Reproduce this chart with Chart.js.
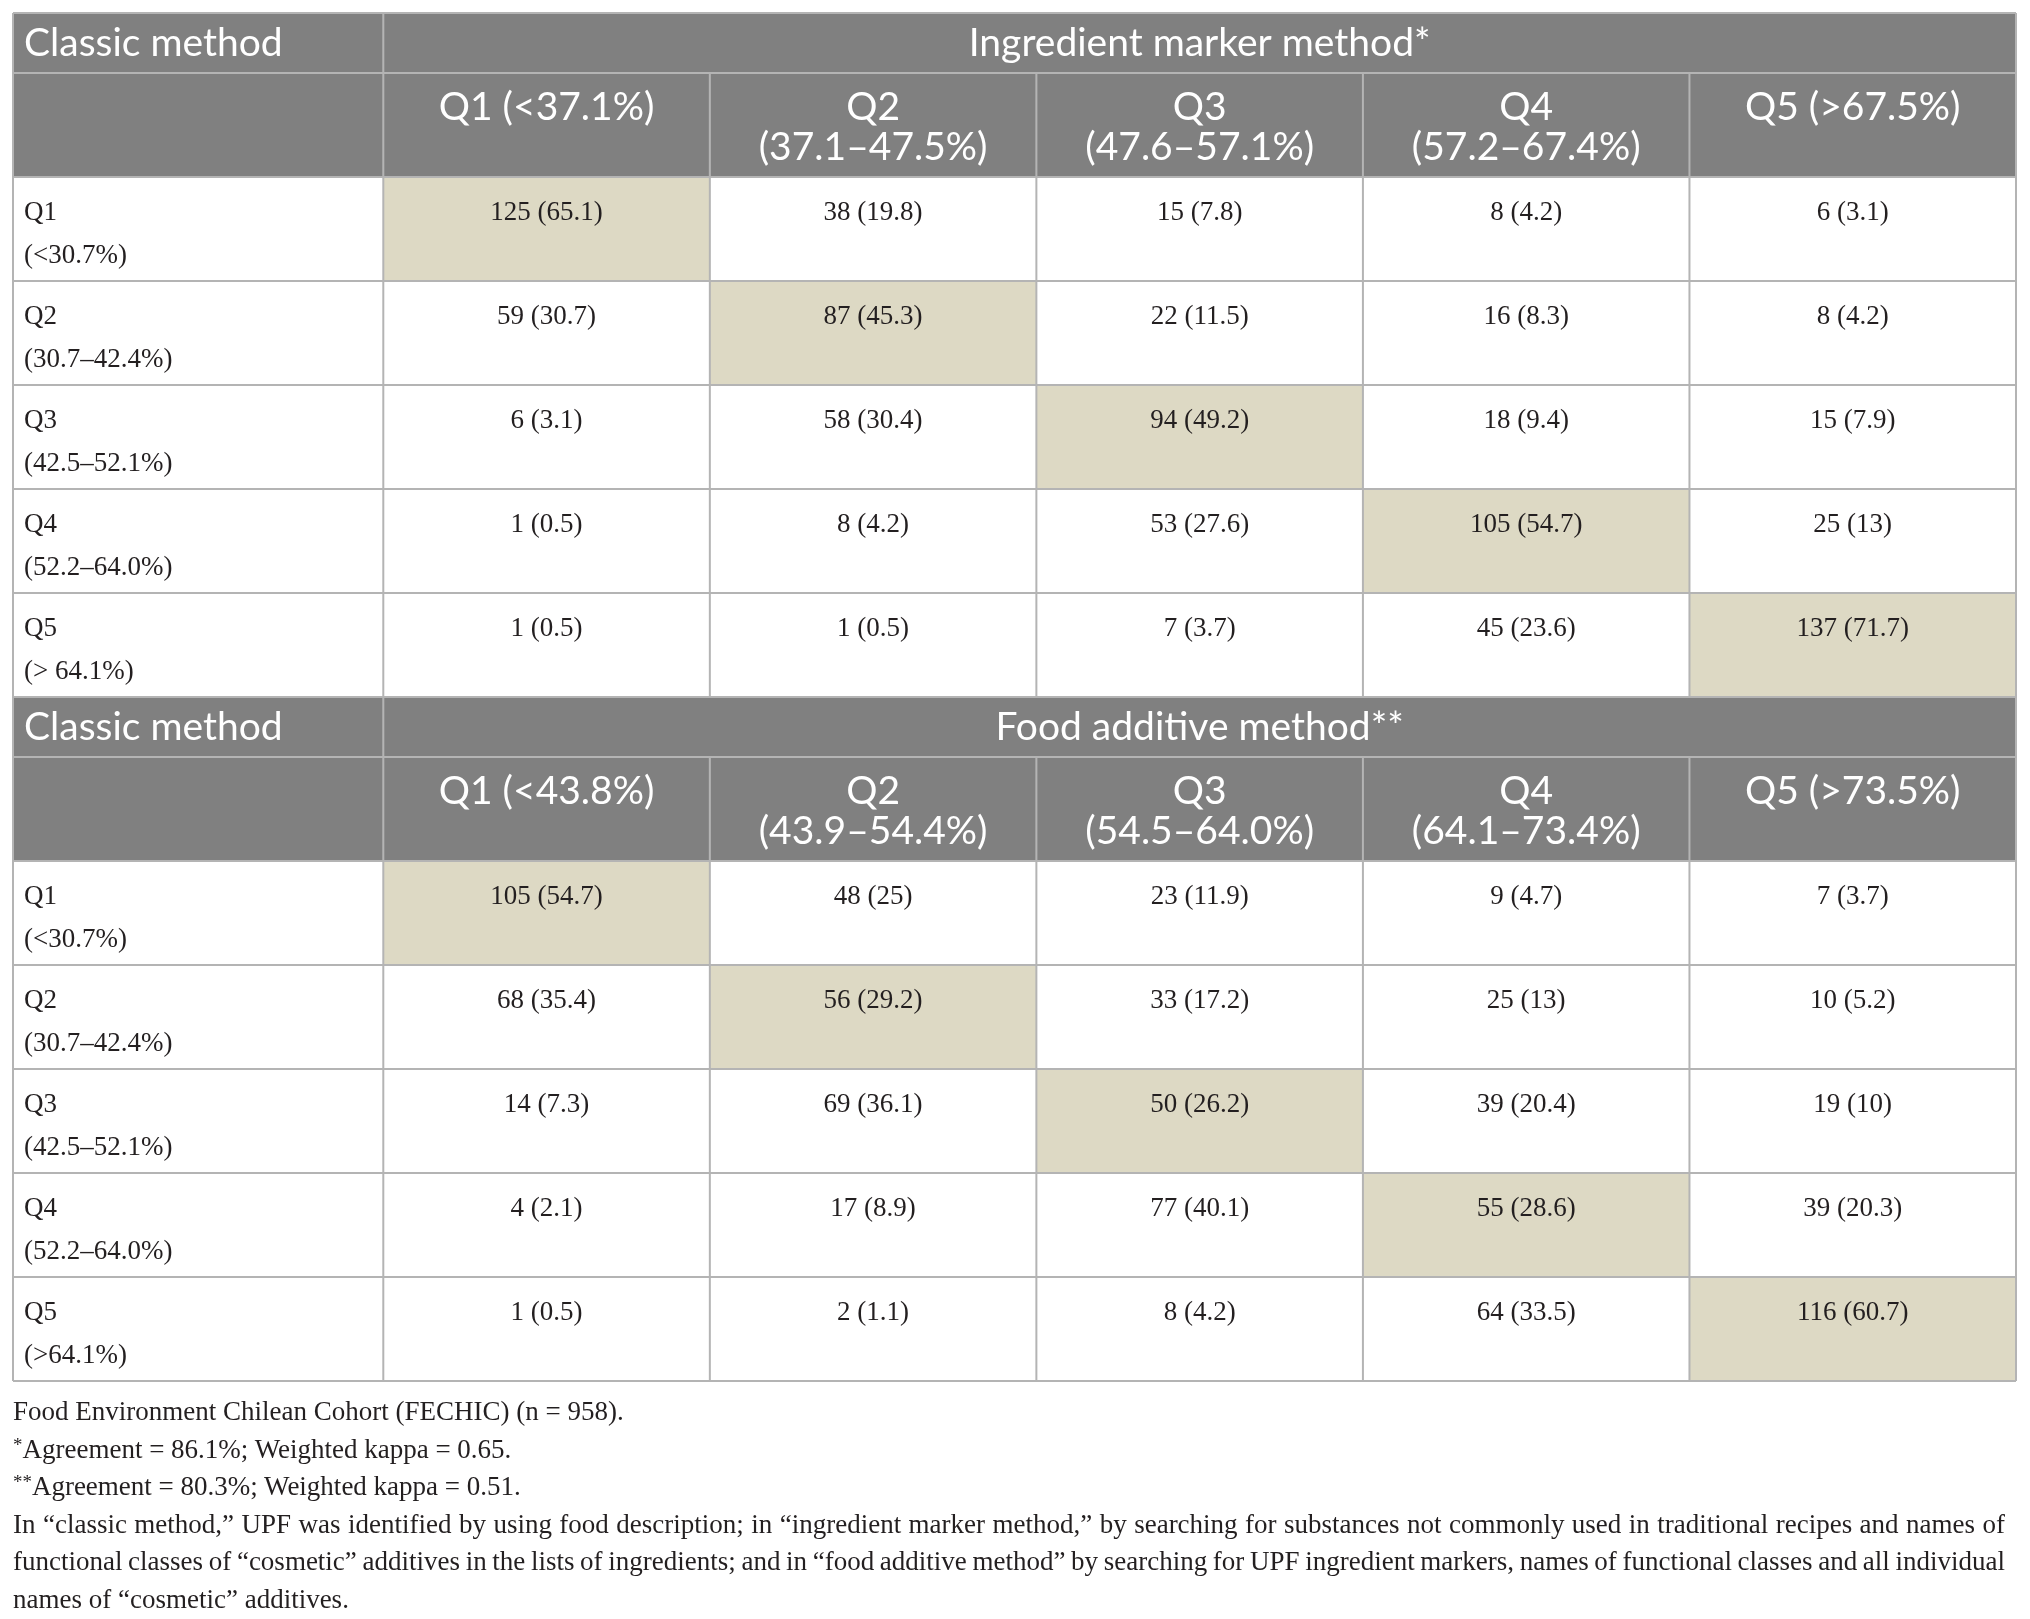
<!DOCTYPE html>
<html>
<head>
<meta charset="utf-8">
<script src="https://cdn.jsdelivr.net/npm/chart.js@4.4.1/dist/chart.umd.min.js"></script>
<style>
  body { margin: 0; background: #fff; width: 2030px; height: 1619px; overflow: hidden; }
  #table { position: absolute; left: 0; top: 0; }
  #notes { position: absolute; left: 13px; top: 1393px; width: 1992px;
           font-family: "Liberation Serif", serif; font-size: 27px; line-height: 37.5px; color: #231f20; }
  #notes div { white-space: nowrap; }
  #notes sup { font-size: 70%; vertical-align: 7px; line-height: 0; }
</style>
</head>
<body>
<canvas id="table" width="2030" height="1395"></canvas>
<div id="notes">
  <div>Food Environment Chilean Cohort (FECHIC) (n = 958).</div>
  <div><sup>*</sup>Agreement = 86.1%; Weighted kappa = 0.65.</div>
  <div><sup>**</sup>Agreement = 80.3%; Weighted kappa = 0.51.</div>
  <div class="just">In “classic method,” UPF was identified by using food description; in “ingredient marker method,” by searching for substances not commonly used in traditional recipes and names of</div>
  <div class="just">functional classes of “cosmetic” additives in the lists of ingredients; and in “food additive method” by searching for UPF ingredient markers, names of functional classes and all individual</div>
  <div>names of “cosmetic” additives.</div>
</div>
<script>
// Table data
const classicHeader = "Classic method";
const tableHeaders = ["Ingredient marker method*", "Food additive method**"];

const rowLabels = ["Q1", "Q2", "Q3", "Q4", "Q5"];
const classicRanges = [
  ["(<30.7%)", "(30.7–42.4%)", "(42.5–52.1%)", "(52.2–64.0%)", "(> 64.1%)"],
  ["(<30.7%)", "(30.7–42.4%)", "(42.5–52.1%)", "(52.2–64.0%)", "(>64.1%)"]
];

const ingredientCols = [["Q1 (<37.1%)"], ["Q2", "(37.1–47.5%)"], ["Q3", "(47.6–57.1%)"], ["Q4", "(57.2–67.4%)"], ["Q5 (>67.5%)"]];
const additiveCols = [["Q1 (<43.8%)"], ["Q2", "(43.9–54.4%)"], ["Q3", "(54.5–64.0%)"], ["Q4", "(64.1–73.4%)"], ["Q5 (>73.5%)"]];

const ingredientCounts = [
  [125, 38, 15, 8, 6],
  [59, 87, 22, 16, 8],
  [6, 58, 94, 18, 15],
  [1, 8, 53, 105, 25],
  [1, 1, 7, 45, 137]
];
const ingredientPct = [
  [65.1, 19.8, 7.8, 4.2, 3.1],
  [30.7, 45.3, 11.5, 8.3, 4.2],
  [3.1, 30.4, 49.2, 9.4, 7.9],
  [0.5, 4.2, 27.6, 54.7, 13],
  [0.5, 0.5, 3.7, 23.6, 71.7]
];
const additiveCounts = [
  [105, 48, 23, 9, 7],
  [68, 56, 33, 25, 10],
  [14, 69, 50, 39, 19],
  [4, 17, 77, 55, 39],
  [1, 2, 8, 64, 116]
];
const additivePct = [
  [54.7, 25, 11.9, 4.7, 3.7],
  [35.4, 29.2, 17.2, 13, 5.2],
  [7.3, 36.1, 26.2, 20.4, 10],
  [2.1, 8.9, 40.1, 28.6, 20.3],
  [0.5, 1.1, 4.2, 33.5, 60.7]
];

// Layout in scale units: first column is wider, title rows are thinner
const COL_UNITS = [1.134, 1, 1, 1, 1, 1];
const TITLE_UNITS = 0.577;
const ROWS_PER_TABLE = 7;

const colEdges = [0];
COL_UNITS.forEach(u => colEdges.push(colEdges[colEdges.length - 1] + u));
const rowEdges = [0];
for (let t = 0; t < 2; t++) {
  [TITLE_UNITS, 1, 1, 1, 1, 1, 1].forEach(u => rowEdges.push(rowEdges[rowEdges.length - 1] + u));
}

const HEAD_BG = "#808080";
const DIAG_BG = "#ddd9c4";
const GRID = "#b4b4b4";
const INK = "#231f20";
const SANS = '39px "Lato", sans-serif';
const SERIF = '27px "Liberation Serif", serif';

function cellPoints(t) {
  const counts = t === 0 ? ingredientCounts : additiveCounts;
  const pct = t === 0 ? ingredientPct : additivePct;
  const pts = [];
  counts.forEach((row, r) => row.forEach((n, c) => {
    pts.push({
      x: (colEdges[c + 1] + colEdges[c + 2]) / 2,
      y: rowEdges[t * ROWS_PER_TABLE + 2 + r],
      col: c, row: r, n: n, p: pct[r][c]
    });
  }));
  return pts;
}

// Draws cell fills, grid and texts through the chart scales
const tablePlugin = {
  id: "tableCells",
  beforeDatasetsDraw(chart) {
    const { ctx, scales: { x, y } } = chart;
    const px = v => x.getPixelForValue(v);
    const py = v => y.getPixelForValue(v);
    const fillCell = (c0, c1, r0, r1, color) => {
      ctx.fillStyle = color;
      ctx.fillRect(px(colEdges[c0]), py(rowEdges[r0]),
        px(colEdges[c1]) - px(colEdges[c0]), py(rowEdges[r1]) - py(rowEdges[r0]));
    };
    ctx.save();
    for (let t = 0; t < 2; t++) {
      const base = t * ROWS_PER_TABLE;
      fillCell(0, 6, base, base + 2, HEAD_BG);
      chart.getDatasetMeta(t).data.forEach((el, i) => {
        const d = chart.data.datasets[t].data[i];
        if (d.row === d.col) fillCell(d.col + 1, d.col + 2, base + 2 + d.row, base + 3 + d.row, DIAG_BG);
      });
    }
    // grid
    ctx.strokeStyle = GRID;
    ctx.lineWidth = 2;
    ctx.beginPath();
    rowEdges.forEach(v => { ctx.moveTo(px(0), py(v)); ctx.lineTo(px(colEdges[6]), py(v)); });
    colEdges.forEach((v, c) => {
      for (let t = 0; t < 2; t++) {
        const base = t * ROWS_PER_TABLE;
        const top = (c === 0 || c === 1 || c === 6) ? base : base + 1;
        ctx.moveTo(px(v), py(rowEdges[top]));
        ctx.lineTo(px(v), py(rowEdges[base + ROWS_PER_TABLE]));
      }
    });
    ctx.stroke();
    ctx.restore();
  },
  afterDatasetsDraw(chart) {
    const { ctx, scales: { x, y } } = chart;
    const px = v => x.getPixelForValue(v);
    const py = v => y.getPixelForValue(v);
    ctx.save();
    ctx.textBaseline = "middle";
    for (let t = 0; t < 2; t++) {
      const base = t * ROWS_PER_TABLE;
      const cols = t === 0 ? ingredientCols : additiveCols;
      // title row
      ctx.fillStyle = "#fff";
      ctx.font = SANS;
      const titleMid = (py(rowEdges[base]) + py(rowEdges[base + 1])) / 2;
      ctx.textAlign = "left";
      ctx.fillText(classicHeader, px(0) + 11, titleMid);
      ctx.textAlign = "center";
      ctx.fillText(tableHeaders[t], (px(colEdges[1]) + px(colEdges[6])) / 2, titleMid);
      // column headings
      const headTop = py(rowEdges[base + 1]);
      cols.forEach((lines, c) => {
        const cx = (px(colEdges[c + 1]) + px(colEdges[c + 2])) / 2;
        lines.forEach((s, k) => ctx.fillText(s, cx, headTop + 34 + k * 40));
      });
      // row labels
      ctx.fillStyle = INK;
      ctx.font = SERIF;
      ctx.textAlign = "left";
      rowLabels.forEach((s, r) => {
        const top = py(rowEdges[base + 2 + r]);
        ctx.fillText(s, px(0) + 11, top + 36);
        ctx.fillText(classicRanges[t][r], px(0) + 11, top + 79);
      });
      // values
      ctx.textAlign = "center";
      chart.getDatasetMeta(t).data.forEach((el, i) => {
        const d = chart.data.datasets[t].data[i];
        ctx.fillText(d.n + " (" + d.p + ")", el.x, el.y + 36);
      });
    }
    ctx.restore();
  }
};

new Chart(document.getElementById("table").getContext("2d"), {
  type: "scatter",
  data: {
    datasets: [
      { label: tableHeaders[0], data: cellPoints(0), pointRadius: 0 },
      { label: tableHeaders[1], data: cellPoints(1), pointRadius: 0 }
    ]
  },
  options: {
    responsive: false,
    animation: false,
    devicePixelRatio: 1,
    layout: { padding: { left: 13, right: 14, top: 13, bottom: 14 } },
    plugins: { legend: { display: false }, tooltip: { enabled: false } },
    scales: {
      x: { type: "linear", min: 0, max: colEdges[colEdges.length - 1], display: false },
      y: { type: "linear", min: 0, max: rowEdges[rowEdges.length - 1], reverse: true, display: false }
    }
  },
  plugins: [tablePlugin]
});

// Justify the two long footnote lines to the full width
document.querySelectorAll("#notes .just").forEach(line => {
  const target = 1992;
  const gaps = (line.textContent.match(/ /g) || []).length;
  line.style.display = "inline-block";
  const w = line.getBoundingClientRect().width;
  line.style.wordSpacing = ((target - w) / gaps) + "px";
  line.style.display = "block";
});
</script>
</body>
</html>
